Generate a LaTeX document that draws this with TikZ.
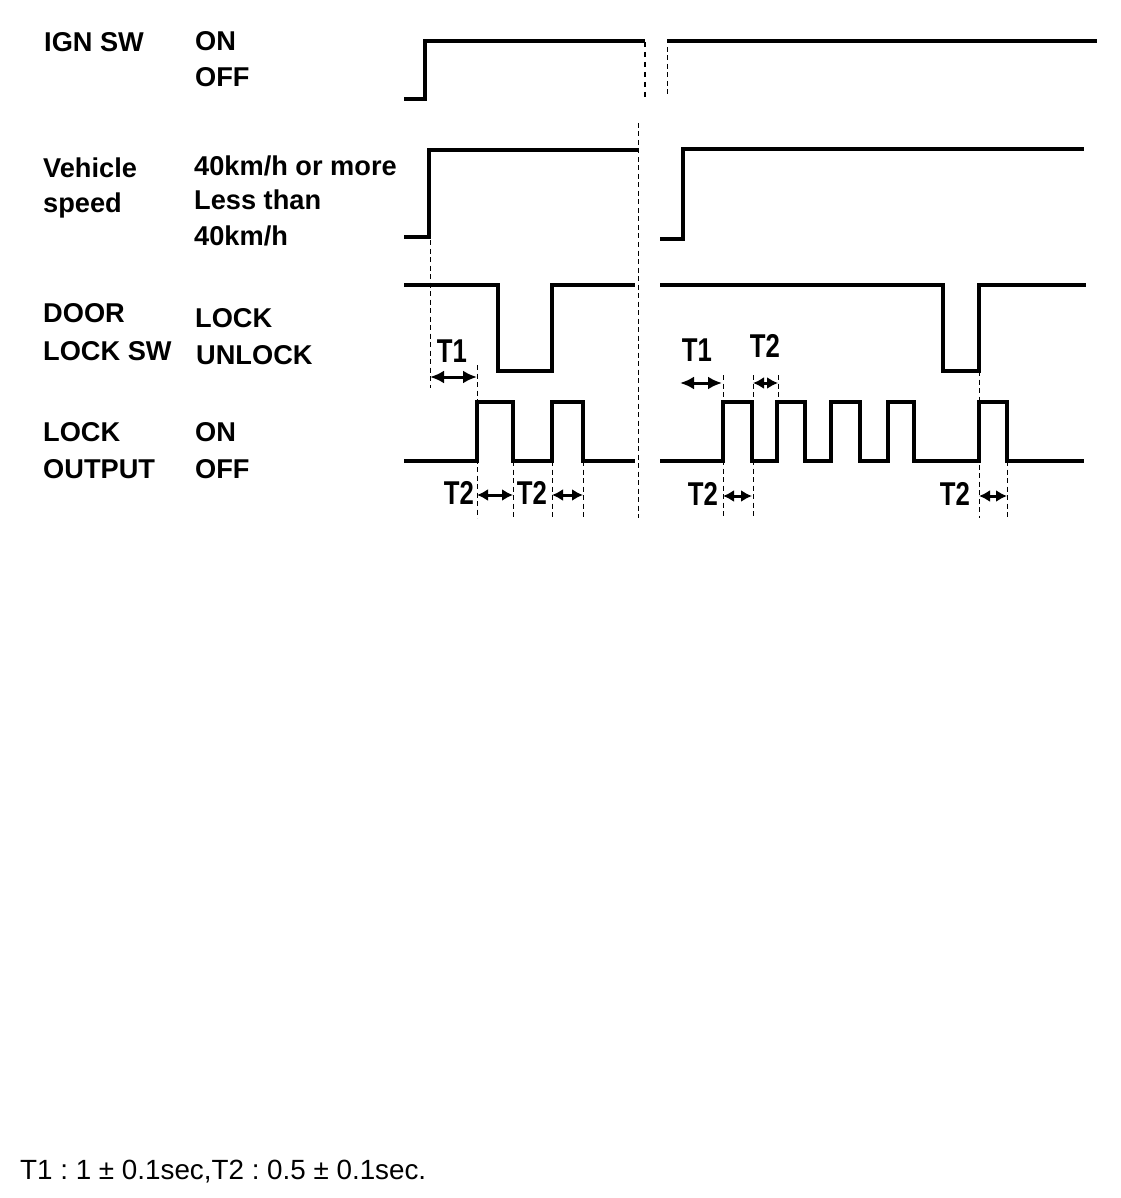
\documentclass[tikz,border=0pt]{standalone}
\usepackage{fontspec}
\setmainfont{Liberation Sans}
\usetikzlibrary{arrows.meta}
\begin{document}
\frenchspacing
\begin{tikzpicture}[x=1pt,y=-1pt,
  lbl/.style={anchor=base west,inner sep=0pt,font=\fontsize{27.2}{30}\selectfont\bfseries},
  tlbl/.style={anchor=center,inner sep=0pt,font=\fontsize{33}{36}\selectfont\bfseries},
  wave/.style={line width=3.5pt,line join=miter,line cap=butt},
  guide/.style={line width=1pt,dash pattern=on 5pt off 3.5pt},
  guidethick/.style={line width=2.5pt,dash pattern=on 5pt off 5pt},
  dim/.style={line width=3pt,{Latex[length=14pt,width=13pt]}-{Latex[length=14pt,width=13pt]}},
  dimsmall/.style={line width=3pt,{Latex[length=11pt,width=12pt]}-{Latex[length=11pt,width=12pt]}},
  note/.style={anchor=base west,inner sep=0pt,font=\fontsize{27.8}{30}\selectfont}]
\useasboundingbox (0,0) rectangle (1120,1198);
\fill[white] (0,0) rectangle (1120,1198);

% ---- labels ----
\node[lbl] (ign) at (44,52) {IGN SW};
\node[lbl] (ignon) at (195,51) {ON};
\node[lbl] (ignoff) at (195,87) {OFF};
\node[lbl] (veh1) at (43,178) {Vehicle};
\node[lbl] (veh2) at (43,213) {speed};
\node[lbl] (vs1) at (194,176) {40km/h or more};
\node[lbl] (vs2) at (194,210) {Less than};
\node[lbl] (vs3) at (194,245) {40km/h};
\node[lbl] (dl1) at (43,322) {DOOR};
\node[lbl] (dl2) at (43,360) {LOCK SW};
\node[lbl] (dllock) at (195,327) {LOCK};
\node[lbl] (dlunlock) at (196,364) {UNLOCK};
\node[lbl] (lo1) at (43,441) {LOCK};
\node[lbl] (lo2) at (43,478) {OUTPUT};
\node[lbl] (loon) at (195,441) {ON};
\node[lbl] (looff) at (195,478) {OFF};

% ---- guide lines ----
\draw[guidethick] (645,42) -- (645,97);
\draw[guide] (667,47) -- (667,97);
\draw[guide] (638,123) -- (638,518);
\draw[guide] (430,240) -- (430,388);
\draw[guide] (477,365) -- (477,518);
\draw[guide] (513,461) -- (513,518);
\draw[guide] (552,461) -- (552,518);
\draw[guide] (583,461) -- (583,518);
\draw[guide] (723,375) -- (723,518);
\draw[guide] (753,375) -- (753,518);
\draw[guide] (778,375) -- (778,402);
\draw[guide] (979,371) -- (979,518);
\draw[guide] (1007,461) -- (1007,518);

% ---- waveforms ----
% IGN SW
\draw[wave] (404,99) -- (425,99) -- (425,41) -- (645,41);
\draw[wave] (667,41) -- (1097,41);
% Vehicle speed
\draw[wave] (404,237) -- (429,237) -- (429,150) -- (638,150);
\draw[wave] (660,239) -- (683,239) -- (683,149) -- (1084,149);
% Door lock SW
\draw[wave] (404,285) -- (498,285) -- (498,371) -- (552,371) -- (552,285) -- (635,285);
\draw[wave] (660,285) -- (943,285) -- (943,371) -- (979,371) -- (979,285) -- (1086,285);
% Lock output
\draw[wave] (404,461) -- (477,461) -- (477,402) -- (513,402) -- (513,461) -- (552,461)
  -- (552,402) -- (583,402) -- (583,461) -- (635,461);
\draw[wave] (660,461) -- (723,461) -- (723,402) -- (752,402) -- (752,461) -- (777,461)
  -- (777,402) -- (805,402) -- (805,461) -- (831,461) -- (831,402) -- (860,402)
  -- (860,461) -- (888,461) -- (888,402) -- (914,402) -- (914,461) -- (979,461)
  -- (979,402) -- (1007,402) -- (1007,461) -- (1084,461);

% ---- dimension arrows ----
\draw[dim] (430,377) -- (477,377);
\draw[dimsmall] (477,495) -- (513,495);
\draw[dimsmall] (552,495) -- (583,495);
\draw[dim] (680,383) -- (722,383);
\draw[dimsmall] (753,383) -- (778,383);
\draw[dimsmall] (723,496) -- (752,496);
\draw[dimsmall] (979,496) -- (1007,496);

% ---- T labels ----
\node[tlbl] (t1a) at (452,351) {\scalebox{0.78}[1]{T1}};
\node[tlbl] (t2a) at (459,493) {\scalebox{0.78}[1]{T2}};
\node[tlbl] (t2b) at (532,493) {\scalebox{0.78}[1]{T2}};
\node[tlbl] (t1b) at (697,350) {\scalebox{0.78}[1]{T1}};
\node[tlbl] (t2c) at (765,346) {\scalebox{0.78}[1]{T2}};
\node[tlbl] (t2d) at (703,494) {\scalebox{0.78}[1]{T2}};
\node[tlbl] (t2e) at (955,494) {\scalebox{0.78}[1]{T2}};

% ---- note ----
\node[note] (nt) at (20,1179) {T1 : 1 ± 0.1sec,T2 : 0.5 ± 0.1sec.};
\end{tikzpicture}
\end{document}
